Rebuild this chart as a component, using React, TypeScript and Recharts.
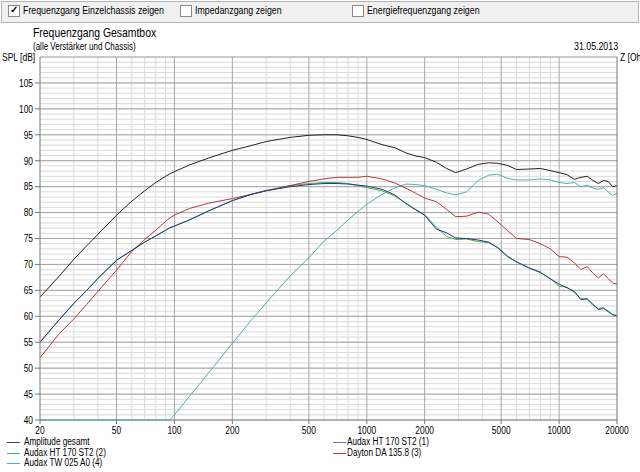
import React from "react";
import { LineChart, Line, XAxis, YAxis, CartesianGrid } from "recharts";

const freqs = [20, 25, 30, 35, 40, 50, 60, 70, 80, 90, 95, 100, 120, 150, 200, 250, 300, 400, 500, 600, 700, 800, 900, 1000, 1200, 1400, 1600, 1800, 2000, 2300, 2600, 2900, 3300, 3800, 4300, 4800, 5400, 6000, 7000, 8000, 9000, 10000, 11000, 12000, 13000, 14000, 15000, 16000, 17000, 18000, 19000, 20000];

const total = [63.7, 67.6, 71, 73.6, 75.8, 79.5, 82.2, 84.2, 85.8, 87, 87.5, 87.9, 89.2, 90.5, 92, 92.9, 93.7, 94.5, 94.9, 95, 95, 94.8, 94.5, 94.1, 93.1, 92.5, 91.5, 90.9, 90.6, 89.7, 88.5, 87.7, 88.4, 89.3, 89.6, 89.5, 89.1, 88.3, 88.4, 88.5, 88.1, 87.7, 87.3, 86.4, 86.8, 87, 86.2, 85.6, 86.2, 86, 85, 85.2];
const ht1 = [55, 59.2, 62.5, 65, 67.3, 70.8, 72.7, 74.3, 75.5, 76.6, 77.1, 77.4, 78.6, 80.3, 82.3, 83.5, 84.2, 85, 85.4, 85.6, 85.6, 85.5, 85.3, 85.1, 84.5, 83.4, 81.7, 80.5, 79.5, 76.8, 76.1, 75.1, 75, 74.7, 74.3, 73.2, 71.5, 70.5, 69.3, 68.5, 67.2, 66.2, 65.5, 64.8, 63.2, 63.4, 62.3, 61.3, 61.5, 61, 60.3, 60.1];
const ht2 = [55, 59.2, 62.5, 65, 67.3, 70.8, 72.7, 74.3, 75.5, 76.6, 77.1, 77.4, 78.6, 80.3, 82.3, 83.5, 84.3, 85.2, 85.6, 85.8, 85.8, 85.6, 85.2, 84.8, 84.2, 83.2, 81.8, 80.6, 79.6, 77.2, 75.4, 74.8, 74.9, 74.4, 74.2, 73.3, 71.6, 70.5, 69.3, 68.4, 67.3, 65.8, 65.6, 64.6, 63.4, 63.3, 62.1, 61.5, 61.7, 60.8, 60.3, 60.1];
const dayton = [52, 56.5, 59.5, 62.3, 64.8, 68.9, 72.5, 74.8, 76.6, 78.3, 79, 79.5, 80.8, 81.8, 82.7, 83.5, 84.2, 85.2, 86, 86.5, 86.8, 86.8, 86.8, 87, 86.5, 85.7, 84.7, 83.7, 82.8, 82.1, 80.6, 79.2, 79.3, 80.1, 79.7, 78.2, 76.5, 75, 74.8, 74, 73, 71.5, 71.4, 70.3, 69, 69.6, 68.3, 67.4, 68.2, 67.3, 66.4, 66.2];
const tw = [40, 40, 40, 40, 40, 40, 40, 40, 40, 40, 40.1, 41, 44.6, 49, 54.8, 59.2, 62.6, 67.8, 71.3, 74.5, 76.6, 78.6, 80.2, 81.6, 83.5, 84.8, 85.5, 85.4, 85.2, 84.5, 83.8, 83.4, 84, 86.2, 87.2, 87.4, 86.6, 86.3, 86.3, 86.5, 86.3, 85.8, 85.6, 85.8, 85, 85.3, 84.7, 84.5, 84.8, 84, 83.3, 83.7];

const xTicks = [20, 50, 100, 200, 500, 1000, 2000, 5000, 10000, 20000];
const xMinor = [30, 40, 60, 70, 80, 90, 300, 400, 600, 700, 800, 900, 3000, 4000, 6000, 7000, 8000, 9000];
const splTicks = [40, 45, 50, 55, 60, 65, 70, 75, 80, 85, 90, 95, 100, 105];
const zTicks = [5, 10, 15, 20, 25, 30, 35, 40, 45, 50, 55, 60, 65];
const splMinor = Array.from({ length: 71 }, (_, i) => 40 + i);
const splMajor = [45, 50, 55, 60, 65, 70, 75, 80, 85, 90, 95, 100, 105, 110];

const series = [
  { key: "ht2", name: "Audax HT 170 ST2 (2)", color: "#46b846", values: ht2 },
  { key: "tw", name: "Audax TW 025 A0 (4)", color: "#4ab2b2", values: tw },
  { key: "dayton", name: "Dayton DA 135.8 (3)", color: "#b53a3a", values: dayton },
  { key: "ht1", name: "Audax HT 170 ST2 (1)", color: "#25338a", values: ht1 },
  { key: "total", name: "Amplitude gesamt", color: "#222222", values: total },
];

const legendCols = [
  [
    { name: "Amplitude gesamt", color: "#444444" },
    { name: "Audax HT 170 ST2 (2)", color: "#46b846" },
    { name: "Audax TW 025 A0 (4)", color: "#4ab2b2" },
  ],
  [
    { name: "Audax HT 170 ST2 (1)", color: "#6a6ac8" },
    { name: "Dayton DA 135.8 (3)", color: "#b53a3a" },
  ],
];

const data = freqs.map((f, i) => {
  const row: Record<string, number> = { f };
  series.forEach((s) => (row[s.key] = s.values[i]));
  return row;
});

const FONT = "'Liberation Sans', Arial, sans-serif";

// squeezed text, the screenshot was narrowed horizontally
function T({ x, y, size, k = 0.8, lh = 1.15, children }: { x: number; y: number; size: number; k?: number; lh?: number; children: React.ReactNode }) {
  return (
    <div style={{ position: "absolute", left: x, top: y, fontSize: size, whiteSpace: "nowrap", transform: `scaleX(${k})`, transformOrigin: "0 0", lineHeight: lh }}>
      {children}
    </div>
  );
}

const mkTick = (anchor: string, dy: string) => (p: any) => (
  <text transform={`translate(${p.x},${p.y}) scale(0.8,1)`} textAnchor={anchor} dy={dy}
    fontSize={10.5} fontFamily={FONT} fill="#000">
    {p.payload.value}
  </text>
);

function Box({ checked, x }: { checked?: boolean; x: number }) {
  return (
    <div style={{ position: "absolute", left: x, top: 5, width: 10, height: 10, border: "1px solid #8a8a8a", background: "#fff" }}>
      {checked && (
        <span style={{ position: "absolute", left: 1, top: -3, fontSize: 10, fontWeight: "bold", lineHeight: "14px" }}>✓</span>
      )}
    </div>
  );
}

export default function App() {
  return (
    <div style={{ position: "fixed", left: 0, top: 0, width: 640, height: 472, background: "#fff", overflow: "hidden", fontFamily: FONT, color: "#000" }}>
      <div style={{ position: "absolute", left: 1, top: 1, width: 636, height: 20, background: "#f0f0f0", border: "1px solid #b5b5b5" }} />
      <Box x={8} checked />
      <T x={23} y={4} size={11}>Frequenzgang Einzelchassis zeigen</T>
      <Box x={180} />
      <T x={195} y={4} size={11}>Impedanzgang zeigen</T>
      <Box x={352} />
      <T x={367} y={4} size={11}>Energiefrequenzgang zeigen</T>
      <T x={33} y={26} size={13}>Frequenzgang Gesamtbox</T>
      <T x={33} y={41} size={10}>(alle Verstärker und Chassis)</T>
      <T x={574} y={40} size={11}>31.05.2013</T>
      <T x={2} y={52} size={10} k={0.85}>SPL [dB]</T>
      <T x={620} y={52} size={10} k={0.85}>Z [Ohm]</T>
      <div style={{ position: "absolute", left: 0, top: 0 }}>
        <LineChart width={640} height={472} data={data} margin={{ top: 57, right: 0, bottom: 32, left: 0 }}>
          <CartesianGrid stroke="#dadada" horizontalValues={splMinor} verticalValues={xMinor} />
          <CartesianGrid stroke="#a5a5a5" horizontalValues={splMajor} verticalValues={xTicks.slice(1, -1)} />
          <CartesianGrid stroke="#777" horizontalValues={[40]} vertical={false} />
          <XAxis dataKey="f" type="number" scale="log" domain={[20, 20000]} ticks={xTicks}
            height={20} stroke="#777" axisLine={false} tickSize={4} tick={mkTick("middle", "0.75em")} interval={0} />
          <YAxis type="number" domain={[40, 110]} ticks={splTicks} width={40}
            stroke="#777" tickSize={5} tick={mkTick("end", "0.36em")} interval={0} />
          <YAxis yAxisId="z" orientation="right" type="number" domain={[0, 70]} ticks={zTicks} width={23}
            stroke="#777" tickSize={4} tick={mkTick("start", "0.36em")} interval={0} />
          {series.map((s) => (
            <Line key={s.key} dataKey={s.key} name={s.name} stroke={s.color} strokeWidth={1} dot={false}
              type="linear" isAnimationActive={false} />
          ))}
        </LineChart>
      </div>
      {legendCols.map((col, ci) =>
        col.map((it, ri) => {
          const top = Math.round(437 + ri * 10.5);
          return (
            <div key={it.name}>
              <div style={{ position: "absolute", left: ci === 0 ? 7 : 333, top: top + 5, width: 13, height: 1, background: it.color }} />
              <T x={ci === 0 ? 24 : 347} y={top} size={10} k={0.82} lh={1}>{it.name}</T>
            </div>
          );
        })
      )}
    </div>
  );
}
